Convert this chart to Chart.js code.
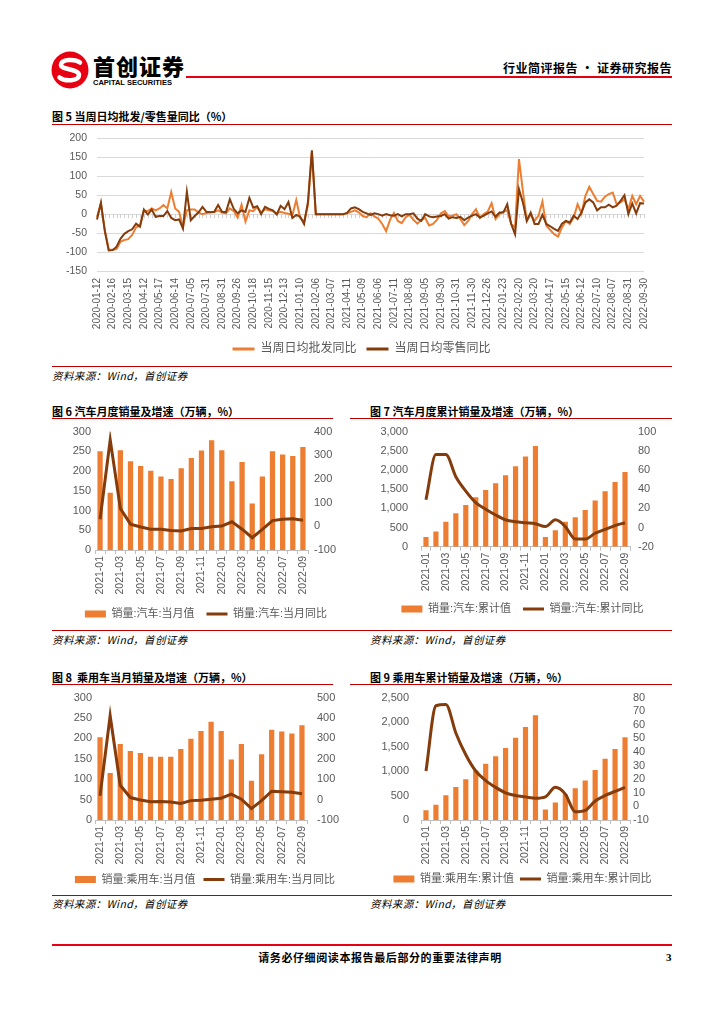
<!DOCTYPE html>
<html>
<head>
<meta charset="utf-8">
<script src="https://cdn.jsdelivr.net/npm/chart.js@4.4.0/dist/chart.umd.min.js"></script>
<style>
  body { margin: 0; background: #fff; width: 724px; height: 1024px; position: relative; overflow: hidden;
         font-family: 'Noto Sans CJK SC', sans-serif; color: #000; }
  .abs { position: absolute; white-space: nowrap; }
  .title { position: absolute; font-size: 11px; line-height: 16px; font-weight: bold; white-space: nowrap; }
  .src { position: absolute; font-size: 10.5px; line-height: 16px; font-style: italic; white-space: nowrap; letter-spacing: 0.4px; }
  .rule { position: absolute; height: 1px; background: #c00000; }
  .box { position: absolute; }
</style>
</head>
<body>

<!-- header -->
<svg class="abs" style="left:51px;top:51px" width="38" height="38" viewBox="0 0 38 38">
  <circle cx="19" cy="19" r="18.5" fill="#e60012"/>
  <path d="M29 11.5 C24 7.5 10 8 10 14 C10 19 28 17.5 28 24 C28 30 14 31 8.5 26.5" stroke="#fff" stroke-width="4.5" fill="none" stroke-linecap="round"/>
</svg>
<div class="abs" style="left:93px;top:52px;font-size:22px;line-height:26px;font-weight:900;letter-spacing:1px">首创证券</div>
<div class="abs" style="left:93px;top:78px;font-size:7.5px;line-height:10px;font-weight:bold;font-family:'Liberation Sans',sans-serif">CAPITAL SECURITIES</div>
<div class="abs" style="right:52px;top:60px;font-size:12px;line-height:16px;font-weight:bold;letter-spacing:0.5px">行业简评报告 · 证券研究报告</div>
<div class="abs" style="left:186px;top:76px;width:486px;height:2px;background:#e60012"></div>

<!-- figure 5 -->
<div class="title" style="left:52px;top:108px">图 5 当周日均批发/零售量同比（%）</div>
<div class="rule" style="left:52px;top:124px;width:620px"></div>
<div class="box" style="left:40px;top:122px;width:660px;height:243px"><canvas id="c5"></canvas></div>
<div class="rule" style="left:52px;top:366px;width:620px"></div>
<div class="src" style="left:52px;top:368px">资料来源：Wind，首创证券</div>

<!-- figures 6 and 7 -->
<div class="title" style="left:52px;top:403px">图 6 汽车月度销量及增速（万辆，%）</div>
<div class="title" style="left:370px;top:403px">图 7 汽车月度累计销量及增速（万辆，%）</div>
<div class="rule" style="left:52px;top:418px;width:281px"></div>
<div class="rule" style="left:350px;top:418px;width:322px"></div>
<div class="box" style="left:40px;top:419px;width:332px;height:211px"><canvas id="c6"></canvas></div>
<div class="box" style="left:360px;top:412px;width:325px;height:218px"><canvas id="c7"></canvas></div>
<div class="rule" style="left:52px;top:630px;width:620px"></div>
<div class="src" style="left:52px;top:632px">资料来源：Wind，首创证券</div>
<div class="src" style="left:370px;top:632px">资料来源：Wind，首创证券</div>

<!-- figures 8 and 9 -->
<div class="title" style="left:52px;top:669px">图 8&nbsp; 乘用车当月销量及增速（万辆，%）</div>
<div class="title" style="left:370px;top:669px">图 9 乘用车累计销量及增速（万辆，%）</div>
<div class="rule" style="left:52px;top:684px;width:281px"></div>
<div class="rule" style="left:350px;top:684px;width:322px"></div>
<div class="box" style="left:40px;top:681px;width:330px;height:214px"><canvas id="c8"></canvas></div>
<div class="box" style="left:360px;top:679px;width:325px;height:216px"><canvas id="c9"></canvas></div>
<div class="rule" style="left:52px;top:895px;width:620px"></div>
<div class="src" style="left:52px;top:896px">资料来源：Wind，首创证券</div>
<div class="src" style="left:370px;top:896px">资料来源：Wind，首创证券</div>

<!-- footer -->
<div class="abs" style="left:52px;top:944px;width:620px;height:2px;background:#e60012"></div>
<div class="abs" style="left:0;width:760px;text-align:center;top:949px;font-size:11px;line-height:16px;font-weight:bold;letter-spacing:0.6px">请务必仔细阅读本报告最后部分的重要法律声明</div>
<div class="abs" style="left:666px;top:949px;font-size:11px;line-height:16px;font-weight:bold;font-family:'Liberation Serif',serif">3</div>

<script>
// weekly tick labels (every 4th week is labelled)
const weekTicks = ['2020-01-12','2020-02-16','2020-03-15','2020-04-12','2020-05-17','2020-06-14','2020-07-05',
  '2020-07-31','2020-08-31','2020-09-26','2020-10-18','2020-11-15','2020-12-13','2021-01-10','2021-02-06',
  '2021-03-07','2021-04-11','2021-05-09','2021-06-06','2021-07-11','2021-08-08','2021-09-05','2021-09-30',
  '2021-10-31','2021-11-30','2021-12-26','2022-01-23','2022-02-20','2022-03-20','2022-04-17','2022-05-15',
  '2022-06-12','2022-07-10','2022-08-07','2022-08-31','2022-09-30'];

// 当周日均批发同比 (%)
const wholesaleYoy = [-7,28,-42,-93,-94,-92,-73,-68,-66,-55,
  -35,-30,8,8,15,10,15,24,15,58,
  15,6,-33,10,12,12,4,0,3,5,
  5,10,4,2,15,8,-9,25,-20,10,
  8,19,4,13,10,8,2,6,3,1,
  -3,37,-10,-20,24,165,0,0,0,0,
  0,0,0,0,2,6,10,5,-5,-8,
  2,-6,-12,-26,-45,-15,3,-18,-24,-8,
  -2,-15,-25,-15,-10,-30,-26,-15,2,8,
  -6,-4,0,-13,-29,-18,0,13,-10,0,
  7,29,-13,0,7,10,-26,-35,145,61,
  -18,0,-18,-4,33,-31,-42,-53,-59,-35,
  -18,-26,-9,26,2,48,72,53,35,33,
  46,53,57,26,31,39,13,48,26,48,
  33];

// 当周日均零售同比 (%)
const retailYoy = [-14,30,-45,-96,-95,-86,-65,-52,-45,-40,
  -25,-33,12,-1,12,-7,-5,-5,8,-10,
  -16,-14,-38,59,-16,-5,5,19,6,5,
  6,24,6,5,39,14,2,10,6,43,
  17,21,0,19,14,10,-1,22,13,32,
  -10,-2,-7,-26,33,168,0,0,0,0,
  0,0,0,0,3,15,18,13,6,2,
  -2,2,0,-4,0,-3,-4,0,-6,0,
  0,2,-12,-18,0,-6,-8,-6,-5,0,
  -12,-8,-10,-7,-16,-9,-4,0,-9,-4,
  2,7,-7,4,4,26,-26,-53,66,31,
  -18,4,-26,-26,-2,-26,-32,-39,-44,-25,
  -18,-22,-4,-13,4,31,39,31,10,18,
  18,25,18,22,35,50,0,28,2,29,
  28];

const months = ['2021-01','2021-02','2021-03','2021-04','2021-05','2021-06','2021-07','2021-08','2021-09',
  '2021-10','2021-11','2021-12','2022-01','2022-02','2022-03','2022-04','2022-05','2022-06','2022-07',
  '2022-08','2022-09'];

// 汽车 (万辆, %)
const autoMonth = [250,145,253,225,213,201,186,180,207,233,252,278,253,174,223,118,186,250,242,238,261];
const autoMonthYoy = [30,365,75,9,-3,-12,-12,-18,-20,-9,-9,-2,1,19,-12,-48,-13,24,30,32,26];
const autoCum = [250,395,648,874,1087,1289,1475,1654,1862,2097,2349,2627,253,426,650,769,956,1206,1447,1686,1947];
const autoCumYoy = [29,76,76,53,38,26,19,13,8,6,5,4,1,8,1,-12,-12,-6,-2,2,5];

// 乘用车 (万辆, %)
const pvMonth = [203,115,186,169,164,155,155,155,174,199,218,241,218,148,186,96,161,221,217,212,232];
const pvMonthYoy = [19,411,70,10,-2,-10,-9,-12,-19,-5,-3,2,7,27,2,-44,-5,41,39,36,29];
const pvCum = [201,309,503,675,833,1013,1149,1300,1473,1681,1897,2141,216,359,525,647,805,1020,1250,1451,1688];
const pvCumYoy = [26,74,75,54,38,26,19,14,10,8,7,6,7,14,9,-4,-3,4,8,11,14];

const ORANGE = '#ED7D31';
const BROWN = '#843C0C';
const GREY = '#595959';

Chart.defaults.font.family = "'Liberation Sans', 'Noto Sans CJK SC', sans-serif";
Chart.defaults.color = GREY;
Chart.defaults.animation = false;

const weekLabels = [];
weekTicks.forEach((t, i) => {
  weekLabels.push(t);
  if (i < weekTicks.length - 1) weekLabels.push('', '', '');
});

// small category tick marks hanging off the zero line, like the excel axis
const zeroTicks = {
  id: 'zeroTicks',
  beforeDatasetsDraw(chart) {
    const x = chart.scales.x, y = chart.scales.y;
    const y0 = y.getPixelForValue(0);
    const ctx = chart.ctx;
    ctx.save();
    ctx.strokeStyle = '#d0d0d0';
    ctx.lineWidth = 1;
    ctx.beginPath();
    for (let i = 0; i < chart.data.labels.length; i++) {
      const px = Math.round(x.getPixelForValue(i)) + 0.5;
      ctx.moveTo(px, y0);
      ctx.lineTo(px, y0 + 4);
    }
    ctx.stroke();
    ctx.restore();
  }
};

new Chart(document.getElementById('c5'), {
  type: 'line',
  data: {
    labels: weekLabels,
    datasets: [
      { label: '当周日均批发同比', data: wholesaleYoy, borderColor: ORANGE, backgroundColor: ORANGE,
        borderWidth: 2, pointRadius: 0, pointBorderWidth: 3, pointStyle: 'line', order: 1 },
      { label: '当周日均零售同比', data: retailYoy, borderColor: BROWN, backgroundColor: BROWN,
        borderWidth: 2, pointRadius: 0, pointBorderWidth: 3, pointStyle: 'line', order: 0 }
    ]
  },
  options: {
    responsive: true,
    maintainAspectRatio: false,
    layout: { padding: { left: 9, right: 26, top: 0, bottom: 0 } },
    plugins: {
      tooltip: { enabled: false },
      legend: {
        position: 'bottom',
        labels: { usePointStyle: true, pointStyleWidth: 22, boxHeight: 8, padding: 10,
                  font: { size: 12 }, sort: (a, b) => a.datasetIndex - b.datasetIndex }
      }
    },
    scales: {
      x: {
        grid: { display: false, drawTicks: false },
        border: { display: false },
        ticks: { autoSkip: false, maxRotation: 90, minRotation: 90, padding: 7, font: { size: 10 } },
        afterFit: s => { s.height = 62; }
      },
      y: {
        min: -150, max: 200,
        grid: { color: '#d9d9d9', drawTicks: false },
        border: { display: false },
        ticks: { stepSize: 50, padding: 10, font: { size: 10.5 }, autoSkip: false },
        afterFit: s => { s.width = 48; }
      },
      pad: {
        position: 'right',
        grid: { display: false, drawTicks: false },
        border: { display: false },
        ticks: { display: false },
        afterFit: s => { s.width = 30; }
      }
    }
  },
  plugins: [zeroTicks]
});

function combo(id, barName, lineName, bars, yoy, cfg) {
  new Chart(document.getElementById(id), {
    data: {
      labels: months,
      datasets: [
        { type: 'bar', label: barName, data: bars, yAxisID: 'y', backgroundColor: ORANGE,
          barPercentage: 0.52, categoryPercentage: 1, pointStyle: 'rect', order: 1 },
        { type: 'line', label: lineName, data: yoy, yAxisID: 'y1', borderColor: BROWN, backgroundColor: BROWN,
          borderWidth: 3, pointRadius: 0, pointStyle: 'line', order: 0,
          cubicInterpolationMode: cfg.smooth ? 'monotone' : 'default' }
      ]
    },
    options: {
      responsive: true,
      maintainAspectRatio: false,
      layout: { padding: { left: 0, right: 0, top: 0, bottom: cfg.padB } },
      plugins: {
        tooltip: { enabled: false },
        legend: {
          position: 'bottom',
          labels: { usePointStyle: true, pointStyleWidth: 21, boxHeight: 7, padding: cfg.legendGap,
                    font: { size: 11 }, sort: (a, b) => a.datasetIndex - b.datasetIndex }
        }
      },
      scales: {
        x: {
          grid: { display: true, drawOnChartArea: false, color: '#bfbfbf', tickLength: 4 },
          border: { color: '#bfbfbf' },
          ticks: { autoSkip: false, maxRotation: 90, minRotation: 90, padding: 2, font: { size: 10.5 },
                   callback: (v, i) => (i % 2 === 0 ? months[i] : '') },
          afterFit: s => { s.height = cfg.xH; }
        },
        y: {
          position: 'left',
          min: cfg.left[0], max: cfg.left[1],
          grid: { display: false, drawTicks: false },
          border: { display: false },
          ticks: { stepSize: cfg.left[2], padding: cfg.padLeftTick, font: { size: 11 }, autoSkip: false,
                   callback: v => v.toLocaleString('en-US') },
          afterFit: s => { s.width = cfg.leftW; }
        },
        y1: {
          position: 'right',
          min: cfg.right[0], max: cfg.right[1],
          grid: { display: false, drawTicks: false },
          border: { display: false },
          ticks: { stepSize: cfg.right[2], padding: cfg.padRightTick, font: { size: 11 }, autoSkip: false },
          afterFit: s => { s.width = cfg.rightW; }
        }
      }
    }
  });
}

combo('c6', '销量:汽车:当月值', '销量:汽车:当月同比', autoMonth, autoMonthYoy,
  { left: [0, 300, 50], right: [-100, 400, 100], padB: 0.5, xH: 46.5, leftW: 55, rightW: 64,
    padLeftTick: 4, padRightTick: 6, legendGap: 12, smooth: false });
combo('c7', '销量:汽车:累计值', '销量:汽车:累计同比', autoCum, autoCumYoy,
  { left: [0, 3000, 500], right: [-20, 100, 20], padB: 5.5, xH: 44.8, leftW: 61, rightW: 55,
    padLeftTick: 13, padRightTick: 8, legendGap: 12, smooth: true });
combo('c8', '销量:乘用车:当月值', '销量:乘用车:当月同比', pvMonth, pvMonthYoy,
  { left: [0, 300, 50], right: [-100, 500, 100], padB: 0, xH: 46, leftW: 55, rightW: 63,
    padLeftTick: 3, padRightTick: 10, legendGap: 8, smooth: false });
combo('c9', '销量:乘用车:累计值', '销量:乘用车:累计同比', pvCum, pvCumYoy,
  { left: [0, 2500, 500], right: [-10, 80, 10], padB: 0.5, xH: 47.5, leftW: 61, rightW: 55,
    padLeftTick: 12, padRightTick: 3, legendGap: 6, smooth: true });
</script>
</body>
</html>
